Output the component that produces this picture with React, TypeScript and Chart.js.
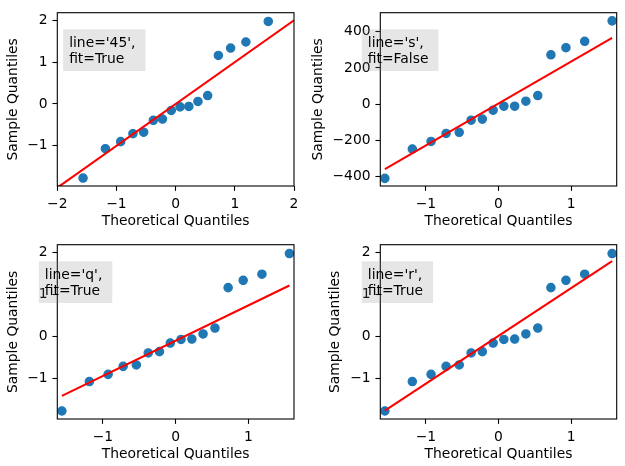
import React, { useEffect, useRef } from "react";
import { Chart, registerables } from "chart.js";
Chart.register(...registerables);

// ---------- data ----------
const THEORETICAL = [-1.565, -1.187, -0.929, -0.722, -0.541, -0.377, -0.223, -0.074, 0.074, 0.223, 0.377, 0.541, 0.722, 0.929, 1.187, 1.565];
const SAMPLE_STD = [-1.77, -1.07, -0.9, -0.71, -0.675, -0.39, -0.36, -0.155, -0.07, -0.06, 0.06, 0.2, 1.16, 1.335, 1.48, 1.97];
const SAMPLE_RAW = [-409, -247, -205, -161, -155, -88, -82, -33, -11, -11, 17, 48, 273, 312, 347, 460];

const LINE_45_X = [-2, 2];
const LINE_45_Y = [-2, 2];
const LINE_FIT_X = [-1.565, 1.565];
const LINE_S_Y = [-358, 366];
const LINE_Q_Y = [-1.41, 1.21];
const LINE_R_Y = [-1.76, 1.79];

const X_TICKS_45 = [-2, -1, 0, 1, 2];
const X_TICKS = [-1, 0, 1];
const Y_TICKS_STD = [-1, 0, 1, 2];
const Y_TICKS_RAW = [-400, -200, 0, 200, 400];

const X_RANGE_45 = [-2, 2];
const X_RANGE = [-1.628, 1.628];
const Y_RANGE_STD = [-1.96, 2.18];
const Y_RANGE_RAW = [-451, 505];

const LABELS_45 = ["line='45',", "fit=True"];
const LABELS_S = ["line='s',", "fit=False"];
const LABELS_Q = ["line='q',", "fit=True"];
const LABELS_R = ["line='r',", "fit=True"];

const X_TITLE = "Theoretical Quantiles";
const Y_TITLE = "Sample Quantiles";
const TEXT_X = -1.8;

// ---------- style ----------
const BLUE = "#1f77b4";
const FONT = { family: "'DejaVu Sans', sans-serif", size: 13.89, lineHeight: 1.2 };
const FONT_CSS = "13.89px 'DejaVu Sans', sans-serif";
const HALF_LH = 13.89 * 1.2 / 2;

const PANELS = [
  { x: THEORETICAL, y: SAMPLE_STD, lx: LINE_45_X, ly: LINE_45_Y, xr: X_RANGE_45, yr: Y_RANGE_STD, xt: X_TICKS_45, yt: Y_TICKS_STD, labels: LABELS_45,
    rect: { L: 57.3, R: 294, T: 12.7, B: 186, yTitleX: 13.3, xTitleY: 221.5 } },
  { x: THEORETICAL, y: SAMPLE_RAW, lx: LINE_FIT_X, ly: LINE_S_Y, xr: X_RANGE, yr: Y_RANGE_RAW, xt: X_TICKS, yt: Y_TICKS_RAW, labels: LABELS_S,
    rect: { L: 380.3, R: 616.7, T: 12.7, B: 186, yTitleX: 318.3, xTitleY: 221.5 } },
  { x: THEORETICAL, y: SAMPLE_STD, lx: LINE_FIT_X, ly: LINE_Q_Y, xr: X_RANGE, yr: Y_RANGE_STD, xt: X_TICKS, yt: Y_TICKS_STD, labels: LABELS_Q,
    rect: { L: 57.3, R: 294, T: 244.7, B: 419, yTitleX: 13.3, xTitleY: 454 } },
  { x: THEORETICAL, y: SAMPLE_STD, lx: LINE_FIT_X, ly: LINE_R_Y, xr: X_RANGE, yr: Y_RANGE_STD, xt: X_TICKS, yt: Y_TICKS_STD, labels: LABELS_R,
    rect: { L: 380.3, R: 616.7, T: 244.7, B: 419, yTitleX: 335, xTitleY: 454 } },
];

const fmt = (v: number) => (v < 0 ? "\u2212" + String(Math.abs(v)) : String(v));

function makePlugin(labels: string[]) {
  return {
    id: "qqdecor",
    afterDraw(chart: any) {
      const { ctx, chartArea } = chart;
      const xs = chart.scales.x;
      ctx.save();
      // frame
      ctx.strokeStyle = "#000";
      ctx.lineWidth = 1.1;
      ctx.strokeRect(chartArea.left, chartArea.top, chartArea.right - chartArea.left, chartArea.bottom - chartArea.top);
      // text box
      ctx.font = FONT_CSS;
      const w = Math.max(...labels.map((l) => ctx.measureText(l).width));
      const tx = xs.getPixelForValue(TEXT_X);
      const top = chartArea.top + 16.6;
      ctx.fillStyle = "rgba(128,128,128,0.2)";
      ctx.fillRect(tx - 6, top, w + 16, 41.7);
      ctx.fillStyle = "#000";
      ctx.textAlign = "left";
      ctx.textBaseline = "alphabetic";
      labels.forEach((l, i) => ctx.fillText(l, tx, top + 17.5 + i * 16));
      ctx.restore();
    },
  };
}

function buildConfig(p: any): any {
  const r = p.rect;
  const padLeft = r.yTitleX - HALF_LH;
  const bottomEdge = r.xTitleY + HALF_LH;
  const yWidth = r.L - padLeft;
  const xHeight = bottomEdge - r.B;
  const grid = { display: true, drawOnChartArea: false, drawTicks: true, tickLength: 4.86, tickColor: "#000", tickWidth: 1.1 };
  return {
    type: "scatter",
    data: {
      datasets: [
        {
          data: p.x.map((x: number, i: number) => ({ x, y: p.y[i] })),
          backgroundColor: BLUE,
          borderColor: BLUE,
          pointRadius: 4.17,
          borderWidth: 1.2,
          showLine: false,
          clip: 0,
          order: 1,
        },
        {
          data: p.lx.map((x: number, i: number) => ({ x, y: p.ly[i] })),
          borderColor: "#ff0000",
          backgroundColor: "#ff0000",
          borderWidth: 2.08,
          pointRadius: 0,
          showLine: true,
          clip: 0,
          order: 0,
        },
      ],
    },
    options: {
      animation: false,
      responsive: false,
      devicePixelRatio: 1,
      events: [],
      layout: { padding: { left: padLeft, right: 625 - r.R, top: r.T, bottom: 466 - bottomEdge } },
      plugins: { legend: { display: false }, tooltip: { enabled: false } },
      scales: {
        x: {
          type: "linear",
          min: p.xr[0],
          max: p.xr[1],
          afterBuildTicks: (s: any) => { s.ticks = p.xt.map((v: number) => ({ value: v })); },
          afterFit: (s: any) => { s.height = xHeight; s.paddingLeft = 0; s.paddingRight = 0; s.paddingTop = 0; s.paddingBottom = 0; },
          ticks: { callback: (v: any) => fmt(v), font: FONT, color: "#000", padding: 4.86, maxRotation: 0, autoSkip: false },
          grid,
          border: { display: false },
          title: { display: true, text: X_TITLE, font: FONT, color: "#000", padding: 0 },
        },
        y: {
          type: "linear",
          min: p.yr[0],
          max: p.yr[1],
          afterBuildTicks: (s: any) => { s.ticks = p.yt.map((v: number) => ({ value: v })); },
          afterFit: (s: any) => { s.width = yWidth; s.paddingLeft = 0; s.paddingRight = 0; s.paddingTop = 0; s.paddingBottom = 0; },
          ticks: { callback: (v: any) => fmt(v), font: FONT, color: "#000", padding: 4.86, autoSkip: false },
          grid,
          border: { display: false },
          title: { display: true, text: Y_TITLE, font: FONT, color: "#000", padding: 0 },
        },
      },
    },
    plugins: [makePlugin(p.labels)],
  };
}

export default function App() {
  const r0 = useRef<HTMLCanvasElement>(null);
  const r1 = useRef<HTMLCanvasElement>(null);
  const r2 = useRef<HTMLCanvasElement>(null);
  const r3 = useRef<HTMLCanvasElement>(null);
  const refs = [r0, r1, r2, r3];
  useEffect(() => {
    const charts = PANELS.map((p, i) => new Chart(refs[i].current as HTMLCanvasElement, buildConfig(p)));
    return () => charts.forEach((c) => c.destroy());
  }, []);
  return (
    <div style={{ position: "fixed", left: 0, top: 0, width: 625, height: 466, background: "#fff" }}>
      {refs.map((ref, i) => (
        <canvas key={i} ref={ref} width={625} height={466}
          style={{ position: "absolute", left: 0, top: 0, width: 625, height: 466 }} />
      ))}
    </div>
  );
}
